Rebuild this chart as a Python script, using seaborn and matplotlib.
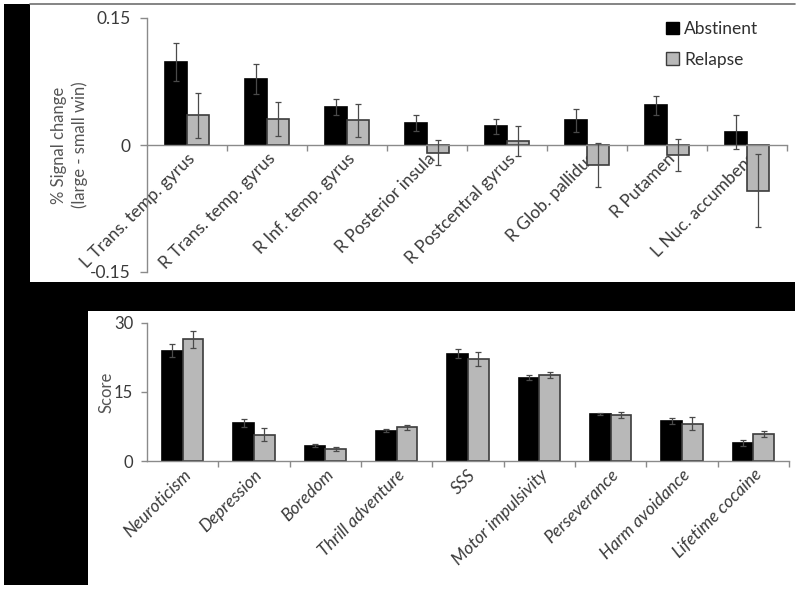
import numpy as np
import pandas as pd
import matplotlib
matplotlib.use("Agg")
import matplotlib.pyplot as plt
import seaborn as sns
from matplotlib.patches import Rectangle
from matplotlib.lines import Line2D

# ---------------- data ----------------
groups = ["Abstinent", "Relapse"]

regions = ["L Trans. temp. gyrus", "R Trans. temp. gyrus", "R Inf. temp. gyrus",
           "R Posterior insula", "R Postcentral gyrus", "R Glob. pallidus",
           "R Putamen", "L Nuc. accumbens"]
abstinent_signal = [0.098, 0.078, 0.045, 0.026, 0.022, 0.029, 0.047, 0.015]
abstinent_signal_err = [0.022, 0.018, 0.009, 0.009, 0.009, 0.014, 0.011, 0.020]
relapse_signal = [0.035, 0.031, 0.029, -0.009, 0.005, -0.024, -0.012, -0.054]
relapse_signal_err = [0.027, 0.020, 0.019, 0.015, 0.018, 0.026, 0.019, 0.043]

measures = ["Neuroticism", "Depression", "Boredom", "Thrill adventure", "SSS",
            "Motor impulsivity", "Perseverance", "Harm avoidance", "Lifetime cocaine"]
abstinent_score = [23.9, 8.3, 3.3, 6.6, 23.3, 18.1, 10.2, 8.7, 3.9]
abstinent_score_err = [1.4, 0.9, 0.3, 0.3, 0.9, 0.5, 0.2, 0.7, 0.6]
relapse_score = [26.4, 5.7, 2.6, 7.3, 22.2, 18.6, 10.0, 8.1, 5.8]
relapse_score_err = [1.8, 1.4, 0.35, 0.6, 1.5, 0.6, 0.6, 1.4, 0.6]

top_yticks = [-0.15, 0, 0.15]
top_yticklabels = ["-0.15", "0", "0.15"]
bottom_yticks = [0, 15, 30]
bottom_yticklabels = ["0", "15", "30"]

# ---------------- style ----------------
sns.set_theme(style="white")
plt.rcParams['font.family'] = ['Lato', 'DejaVu Sans']

BAR_COLORS = ["black", "#b8b8b8"]
EDGE_COLORS = ["black", "#3c3c3c"]
AXIS_COLOR = "#8a8a8a"
TEXT_COLOR = "#3a3a3a"

W, H = 800, 591
fig = plt.figure(figsize=(W / 100, H / 100), dpi=100)
fig.patch.set_facecolor("white")


def px_rect(x0, y0, x1, y1, color="black"):
    fig.patches.append(Rectangle((x0 / W, 1 - y1 / H), (x1 - x0) / W, (y1 - y0) / H,
                                 transform=fig.transFigure, facecolor=color,
                                 edgecolor="none", zorder=0))


# black background shapes of the original figure
px_rect(4, 4, 30, 311)
px_rect(4, 282, 795, 311)
px_rect(4, 282, 88, 585)
fig.lines.append(Line2D([30 / W, 795 / W], [1 - 4 / H] * 2, transform=fig.transFigure,
                        color="#707070", lw=1.2))


def draw_panel(ax, cats, a_vals, a_err, r_vals, r_err, width, cat_name):
    df = pd.DataFrame({
        cat_name: cats * 2,
        "group": [groups[0]] * len(cats) + [groups[1]] * len(cats),
        "value": a_vals + r_vals,
    })
    sns.barplot(data=df, x=cat_name, y="value", hue="group", palette=BAR_COLORS,
                width=width, errorbar=None, ax=ax, linewidth=1.2, saturation=1)
    for cont, ec, errs in zip(ax.containers, EDGE_COLORS, [a_err, r_err]):
        for bar, e in zip(cont, errs):
            bar.set_edgecolor(ec)
            x = bar.get_x() + bar.get_width() / 2
            y = bar.get_y() + bar.get_height()
            ax.errorbar(x, y, yerr=e, color="#4a4a4a", lw=0.9, capsize=2.5,
                        capthick=0.9, zorder=5)
    ax.set_facecolor("none")
    ax.set_xlim(-0.5, len(cats) - 0.5)
    for s in ["top", "right"]:
        ax.spines[s].set_visible(False)
    for s in ["left", "bottom"]:
        ax.spines[s].set_color(AXIS_COLOR)
        ax.spines[s].set_linewidth(1.0)
    ax.set_xticks(np.arange(len(cats)))
    ax.set_xticks(np.arange(0.5, len(cats), 1), minor=True)
    ax.tick_params(axis="x", which="minor", bottom=True, direction="out", length=4,
                   color=AXIS_COLOR, width=1.0)
    ax.tick_params(axis="x", which="major", bottom=True, length=0, pad=4,
                   labelsize=12.5, labelcolor=TEXT_COLOR)
    ax.set_xlabel("")


# ---------------- top panel ----------------
ax1 = fig.add_axes([147 / W, 1 - 272 / H, 640 / W, 254 / H])
draw_panel(ax1, regions, abstinent_signal, abstinent_signal_err,
           relapse_signal, relapse_signal_err, 0.56, "region")
ax1.set_ylim(-0.15, 0.15)
ax1.set_yticks(top_yticks, top_yticklabels)
ax1.tick_params(axis="y", which="major", left=True, direction="out", length=5,
                color=AXIS_COLOR, width=1.0, labelsize=12.5, labelcolor=TEXT_COLOR, pad=7)
ax1.spines["bottom"].set_position(("data", 0))
ax1.set_xticklabels(regions, rotation=45, ha="right", va="top", rotation_mode="anchor")
ax1.set_ylabel("% Signal change\n(large - small win)", fontsize=12, color="#555555",
               linespacing=1.3)
ax1.yaxis.set_label_coords((88 - 147) / 640, 0.5)

leg_handles, leg_labels = ax1.get_legend_handles_labels()
if ax1.get_legend() is not None:
    ax1.get_legend().remove()
leg = fig.legend(leg_handles, leg_labels, loc="upper left",
                 bbox_to_anchor=(666 / W, 1 - 21 / H), bbox_transform=fig.transFigure,
                 frameon=False, fontsize=12.5, labelspacing=0.85, handlelength=0.75,
                 handleheight=0.75, handletextpad=0.3, borderpad=0, borderaxespad=0)
for hnd, ec in zip(leg.legend_handles, EDGE_COLORS):
    hnd.set_edgecolor(ec)
    hnd.set_linewidth(1.0)
for t in leg.get_texts():
    t.set_color("#303030")

# ---------------- bottom panel ----------------
ax2 = fig.add_axes([147 / W, 1 - 461 / H, 642 / W, 138.3 / H])
draw_panel(ax2, measures, abstinent_score, abstinent_score_err,
           relapse_score, relapse_score_err, 0.575, "measure")
if ax2.get_legend() is not None:
    ax2.get_legend().remove()
ax2.set_ylim(0, 30)
ax2.set_yticks(bottom_yticks, bottom_yticklabels)
ax2.tick_params(axis="y", which="major", left=True, direction="out", length=4,
                color=AXIS_COLOR, width=1.0, labelsize=12, labelcolor=TEXT_COLOR, pad=6)
ax2.set_xticklabels(measures, rotation=45, ha="right", va="top", rotation_mode="anchor",
                    fontstyle="italic")
ax2.set_ylabel("Score", fontsize=12, color="#555555")
ax2.yaxis.set_label_coords((114 - 147) / 642, 0.5)

fig.savefig("out.png", dpi=100, facecolor="white")
